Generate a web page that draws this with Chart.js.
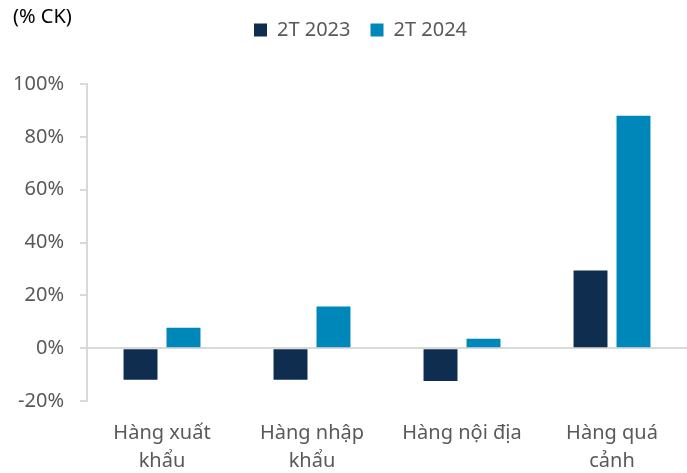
<!DOCTYPE html>
<html>
<head>
<meta charset="utf-8">
<script src="https://cdn.jsdelivr.net/npm/chart.js@4"></script>
<style>
  html, body { margin: 0; padding: 0; background: #fff; }
  #wrap { width: 687px; height: 473px; }
</style>
</head>
<body>
<div id="wrap"><canvas id="chart"></canvas></div>
<script>
const CATEGORIES = [['Hàng xuất', 'khẩu'], ['Hàng nhập', 'khẩu'], 'Hàng nội địa', ['Hàng quá', 'cảnh']];
const SERIES_NAMES = ['2T 2023', '2T 2024'];
const VALUES_2023 = [-12.0, -12.0, -12.4, 29.4];
const VALUES_2024 = [7.7, 15.8, 3.6, 88.0];
const Y_MIN = -20;
const Y_MAX = 100;
const Y_STEP = 20;
const UNIT_LABEL = '(% CK)';

const FONT = 'Noto Sans';
const TEXT_GREY = '#595959';
const LINE_GREY = '#d9d9d9';

// draws the unit caption in the top-left corner
const unitLabel = {
  id: 'unitLabel',
  afterDraw(chart) {
    const { ctx } = chart;
    ctx.save();
    ctx.font = `20px "${FONT}"`;
    ctx.fillStyle = '#000';
    ctx.textBaseline = 'middle';
    ctx.fillText(UNIT_LABEL, 13, 17);
    ctx.restore();
  },
};

// more room under the legend, and nudge it right like the original
const legendTweak = {
  id: 'legendTweak',
  beforeInit(chart) {
    const legend = chart.legend;
    const fit = legend.fit;
    legend.fit = function () {
      fit.call(this);
      this.height += 34;
    };
    const draw = legend.draw;
    legend.draw = function () {
      this.left += 34;
      draw.call(this);
      this.left -= 34;
    };
  },
};

new Chart(document.getElementById('chart'), {
  type: 'bar',
  data: {
    labels: CATEGORIES,
    datasets: [
      { label: SERIES_NAMES[0], data: VALUES_2023, backgroundColor: '#0e2d4f' },
      { label: SERIES_NAMES[1], data: VALUES_2024, backgroundColor: '#0087b9' },
    ],
  },
  plugins: [unitLabel, legendTweak],
  options: {
    responsive: true,
    maintainAspectRatio: false,
    animation: false,
    categoryPercentage: 0.573,
    barPercentage: 0.79,
    layout: { padding: 0 },
    plugins: {
      tooltip: { enabled: false },
      legend: {
        position: 'top',
        labels: {
          color: TEXT_GREY,
          font: { family: FONT, size: 20 },
          boxWidth: 13,
          boxHeight: 13,
          padding: 20,
        },
      },
    },
    scales: {
      x: {
        afterFit(scale) { scale.height -= 20; },
        grid: { display: false, drawTicks: false },
        border: { display: false },
        ticks: {
          color: TEXT_GREY,
          font: { family: FONT, size: 20, lineHeight: 1.4 },
          padding: 18,
          maxRotation: 0,
          autoSkip: false,
        },
      },
      y: {
        min: Y_MIN,
        max: Y_MAX,
        afterFit(scale) { scale.width = 87; },
        grid: {
          color: ctx => (ctx.tick && ctx.tick.value === 0 ? LINE_GREY : 'rgba(0,0,0,0)'),
          lineWidth: 2,
          tickColor: LINE_GREY,
          tickLength: 7,
          drawTicks: true,
        },
        border: { color: LINE_GREY, width: 2 },
        ticks: {
          stepSize: Y_STEP,
          color: TEXT_GREY,
          font: { family: FONT, size: 20 },
          padding: 16,
          callback: v => v + '%',
        },
      },
    },
  },
});
</script>
</body>
</html>
